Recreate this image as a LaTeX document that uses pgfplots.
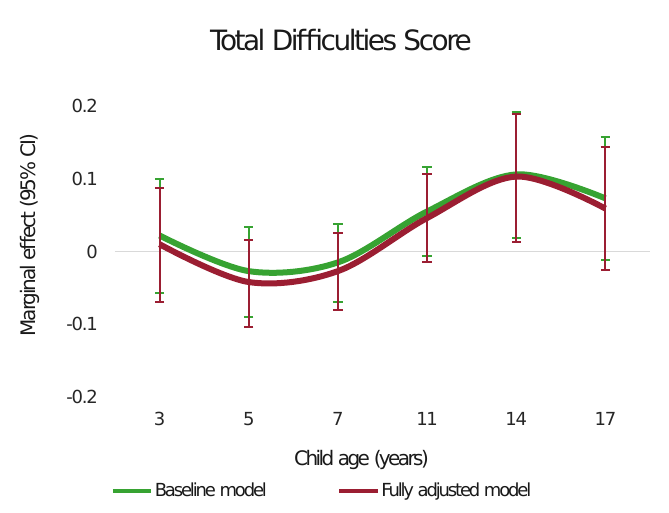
\documentclass[border=0pt]{standalone}
\usepackage{fontspec}
\setmainfont{DejaVu Sans}[LetterSpace=-7]
\newfontfamily\ftitle{DejaVu Sans}[LetterSpace=-9]
\newfontfamily\flabel{DejaVu Sans}[LetterSpace=-13]
\newfontfamily\fylabel{DejaVu Sans}[LetterSpace=-10.5]
\newfontfamily\flegend{DejaVu Sans}[LetterSpace=-12]
\usepackage{pgfplots}
\usepackage{pgfplotstable}
\pgfplotsset{compat=1.18}
\definecolor{cgreen}{RGB}{55,163,50}
\definecolor{cred}{RGB}{155,30,50}
\definecolor{czero}{RGB}{217,217,217}

\pgfplotstableread{
x y ep em
0 0.022 0.078 0.079
1 -0.027 0.061 0.063
2 -0.015 0.053 0.055
3 0.055 0.061 0.061
4 0.106 0.086 0.088
5 0.073 0.085 0.085
}\baseline

\pgfplotstableread{
x y ep em
0 0.010 0.077 0.079
1 -0.042 0.058 0.062
2 -0.027 0.052 0.054
3 0.046 0.061 0.061
4 0.103 0.086 0.090
5 0.059 0.085 0.084
}\adjusted

\begin{document}
\begin{tikzpicture}
\path[use as bounding box] (0,0) rectangle (501.75pt,384.75pt);
\begin{axis}[
  at={(86.25pt,87pt)}, anchor=south west,
  scale only axis, width=401.25pt, height=218.25pt,
  xmin=-0.5, xmax=5.5, ymin=-0.2, ymax=0.2,
  clip=false,
  axis line style={draw=none},
  major tick length=0pt,
  xtick={0,1,2,3,4,5},
  xticklabels={3,5,7,11,14,17},
  ytick={-0.2,-0.1,0,0.1,0.2},
  yticklabels={-0.2,-0.1,0,0.1,0.2},
  /pgf/number format/assume math mode=true,
  ticklabel style={font=\fontsize{13.5pt}{16pt}\selectfont, text=black!85},
  yticklabel style={anchor=east, inner sep=0pt, xshift=-12.75pt},
  xticklabel style={anchor=north, inner sep=0pt, yshift=-11.25pt},
  legend columns=2,
  legend style={at={(axis description cs:0.3864,-0.323)}, anchor=center, draw=none,
    font=\flegend\fontsize{13.5pt}{16pt}\selectfont,
    nodes={inner sep=1pt, text=black!90},
    /tikz/every even column/.append style={column sep=51.75pt}},
]
\addplot[czero, line width=0.75pt, forget plot] coordinates {(-0.5,0) (5.5,0)};

\addplot[cgreen, line width=4.5pt, smooth, tension=0.55, mark=none, forget plot,
  error bars/.cd, y dir=both, y explicit,
  error bar style={line width=1.5pt, solid, cgreen},
  error mark options={rotate=90, mark size=3.5pt, line width=1.5pt, cgreen}]
  table[x=x, y=y, y error plus=ep, y error minus=em] {\baseline};

\addplot[cred, line width=4.5pt, smooth, tension=0.55, mark=none, forget plot,
  error bars/.cd, y dir=both, y explicit,
  error bar style={line width=1.6pt, solid, cred},
  error mark options={rotate=90, mark size=3.5pt, line width=1.6pt, cred}]
  table[x=x, y=y, y error plus=ep, y error minus=em] {\adjusted};

\addlegendimage{legend image code/.code={\draw[cgreen, line width=3pt] (0pt,0pt) -- (29pt,0pt);}}
\addlegendentry{Baseline model}
\addlegendimage{legend image code/.code={\draw[cred, line width=3pt] (0pt,0pt) -- (29pt,0pt);}}
\addlegendentry{Fully adjusted model}

\node[anchor=base, font=\ftitle\fontsize{21pt}{25pt}\selectfont, text=black!90] at (axis description cs:0.4224,1.19) {Total Difficulties Score};
\node[anchor=base, font=\flabel\fontsize{15pt}{18pt}\selectfont, text=black!90] at (axis description cs:0.4607,-0.2337) {Child age (years)};
\node[anchor=base, rotate=90, font=\fylabel\fontsize{15pt}{18pt}\selectfont, text=black!90] at (axis description cs:-0.1495,0.5567) {Marginal effect (95\% CI)};
\end{axis}
\end{tikzpicture}
\end{document}
